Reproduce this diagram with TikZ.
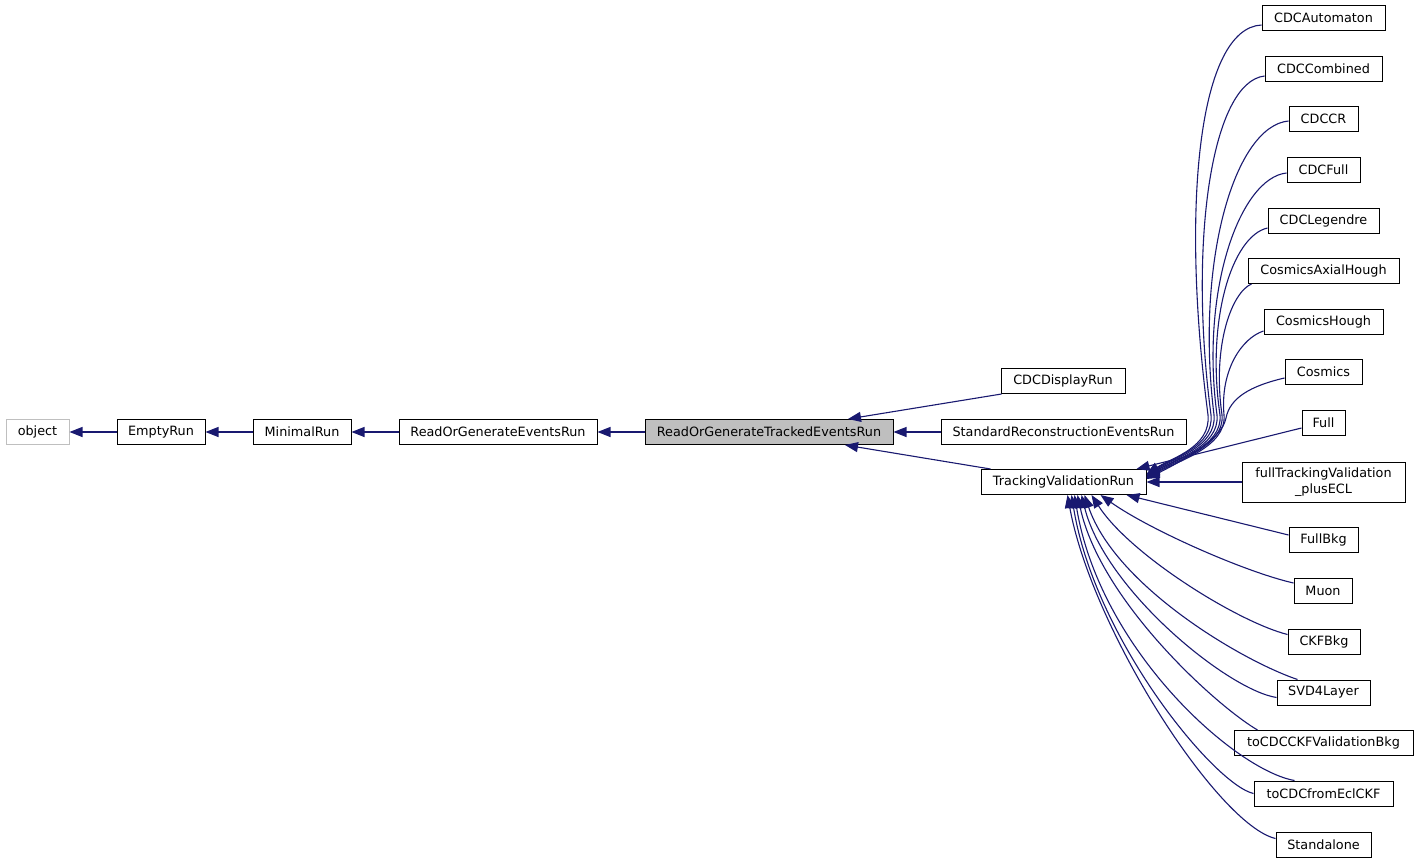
\documentclass[tikz,border=0pt]{standalone}
\usepackage{fontspec}
\setmainfont{DejaVu Sans}
\usetikzlibrary{arrows.meta}
\definecolor{edgeblue}{RGB}{25,25,112}
\definecolor{grayfill}{RGB}{191,191,191}
\definecolor{lightborder}{RGB}{191,191,191}
\begin{document}
\begin{tikzpicture}[x=1pt,y=-1pt,
  cls/.style={draw=black, line width=1pt, minimum height=25pt, inner xsep=2pt, inner ysep=0pt,
              font=\fontsize{12.8}{15.5}\selectfont, text=black, align=center},
  edge/.style={draw=edgeblue, line width=1.1pt, -{Triangle[length=13pt,width=10pt]}},
]
\useasboundingbox (0,0) rectangle (1419,864);
\fill[white] (0,0) rectangle (1419,864);

% main row
\node[cls, draw=lightborder, minimum width=63pt] (object) at (37.5,432) {object};
\node[cls, minimum width=88pt] (EmptyRun) at (161,432) {EmptyRun};
\node[cls, minimum width=98pt] (MinimalRun) at (302,432) {MinimalRun};
\node[cls, minimum width=198pt] (ROGER) at (498,432) {ReadOrGenerateEventsRun};
\node[cls, fill=grayfill, minimum width=248pt] (ROGTER) at (769,432) {ReadOrGenerateTrackedEventsRun};

% second column
\node[cls, minimum width=124pt] (CDCDisplayRun) at (1063,381) {CDCDisplayRun};
\node[cls, minimum width=245pt] (StdReco) at (1063.5,432) {StandardReconstructionEventsRun};
\node[cls, minimum width=165pt] (TVR) at (1063.5,482) {TrackingValidationRun};

% right column
\node[cls, minimum width=123pt] (CDCAutomaton) at (1323.5,18) {CDCAutomaton};
\node[cls, minimum width=117pt] (CDCCombined) at (1323.5,69) {CDCCombined};
\node[cls, minimum width=69pt] (CDCCR) at (1323.5,119) {CDCCR};
\node[cls, minimum width=73pt] (CDCFull) at (1323.5,170) {CDCFull};
\node[cls, minimum width=111pt] (CDCLegendre) at (1323.5,221) {CDCLegendre};
\node[cls, minimum width=151pt] (CosmicsAxialHough) at (1323.5,271) {CosmicsAxialHough};
\node[cls, minimum width=119pt] (CosmicsHough) at (1323.5,322) {CosmicsHough};
\node[cls, minimum width=77pt] (Cosmics) at (1323.5,372) {Cosmics};
\node[cls, minimum width=43pt] (Full) at (1323.5,423) {Full};
\node[cls, minimum width=163pt, minimum height=40pt] (fTV) at (1323.5,482) {fullTrackingValidation\\\_plusECL};
\node[cls, minimum width=69pt] (FullBkg) at (1323.5,540) {FullBkg};
\node[cls, minimum width=58pt] (Muon) at (1323,591) {Muon};
\node[cls, minimum width=72pt] (CKFBkg) at (1324,641.5) {CKFBkg};
\node[cls, minimum width=93pt] (SVD4Layer) at (1323.5,692.5) {SVD4Layer};
\node[cls, minimum width=179pt] (toCDCCKF) at (1323.5,743) {toCDCCKFValidationBkg};
\node[cls, minimum width=139pt] (toCDCfromEcl) at (1323.5,793.5) {toCDCfromEclCKF};
\node[cls, minimum width=95pt] (Standalone) at (1323.5,844.5) {Standalone};

% main row edges
\draw[edge] (EmptyRun) -- (object);
\draw[edge] (MinimalRun) -- (EmptyRun);
\draw[edge] (ROGER) -- (MinimalRun);
\draw[edge] (ROGTER) -- (ROGER);

% second column edges
\draw[edge] ([xshift=1pt]CDCDisplayRun.south west) -- ([xshift=79pt]ROGTER.north);
\draw[edge] (StdReco) -- (ROGTER);
\draw[edge] ([xshift=10pt]TVR.north west) -- ([xshift=76pt]ROGTER.south);

% upper right edges
\draw[edge] ([yshift=-7pt]CDCAutomaton.west) .. controls (1200,28) and (1180,200) .. (1208,415)
  .. controls (1211,447) and (1172,458) .. ([yshift=8pt]TVR.east);
\draw[edge] ([yshift=-7pt]CDCCombined.west) .. controls (1212,82) and (1188,240) .. (1211,415)
  .. controls (1214,447) and (1172,458) .. ([yshift=7pt]TVR.east);
\draw[edge] ([yshift=-2pt]CDCCR.west) .. controls (1235,126) and (1195,260) .. (1214,415)
  .. controls (1217,447) and (1172,459) .. ([yshift=6pt]TVR.east);
\draw[edge] ([yshift=-3pt]CDCFull.west) .. controls (1240,178) and (1200,290) .. (1217,415)
  .. controls (1220,447) and (1173,460) .. ([yshift=5.5pt]TVR.east);
\draw[edge] ([yshift=-7pt]CDCLegendre.west) .. controls (1232,236) and (1206,320) .. (1220,415)
  .. controls (1223,447) and (1174,460) .. ([yshift=5pt]TVR.east);
\draw[edge] ([xshift=4pt]CosmicsAxialHough.south west) .. controls (1232,292) and (1212,345) .. (1222,415)
  .. controls (1225,447) and (1175,461) .. ([yshift=4.5pt]TVR.east);
\draw[edge] ([yshift=-9pt]CosmicsHough.west) .. controls (1242,338) and (1220,370) .. (1224,415)
  .. controls (1227,447) and (1176,462) .. ([yshift=4pt]TVR.east);
\draw[edge] ([yshift=-6pt]Cosmics.west) .. controls (1250,386) and (1230,398) .. (1226,418)
  .. controls (1222,440) and (1178,463) .. ([yshift=3pt]TVR.east);
\draw[edge] ([yshift=-5pt]Full.west) -- ([xshift=-10pt]TVR.north east);
\draw[edge] (fTV.west) -- (TVR.east);

% lower right edges
\draw[edge] ([yshift=5pt]FullBkg.west) -- ([xshift=63pt]TVR.south);
\draw[edge] ([yshift=8pt]Muon.west) .. controls (1245,572) and (1150,530) .. ([xshift=37pt]TVR.south);
\draw[edge] ([yshift=7pt]CKFBkg.west) .. controls (1238,622) and (1130,555) .. ([xshift=28pt]TVR.south);
\draw[edge] ([xshift=21pt]SVD4Layer.north west) .. controls (1240,660) and (1115,585) .. ([xshift=21pt]TVR.south);
\draw[edge] ([yshift=-5pt]SVD4Layer.west) .. controls (1228,690) and (1105,590) .. ([xshift=18pt]TVR.south);
\draw[edge] ([xshift=24pt]toCDCCKF.north west) .. controls (1215,705) and (1100,600) .. ([xshift=14pt]TVR.south);
\draw[edge] ([xshift=41pt]toCDCfromEcl.north west) .. controls (1235,770) and (1100,650) .. ([xshift=11pt]TVR.south);
\draw[edge] (toCDCfromEcl.west) .. controls (1215,785) and (1095,640) .. ([xshift=8pt]TVR.south);
\draw[edge] ([yshift=6pt]Standalone.west) .. controls (1218,825) and (1092,630) .. ([xshift=4pt]TVR.south);
\end{tikzpicture}
\end{document}
